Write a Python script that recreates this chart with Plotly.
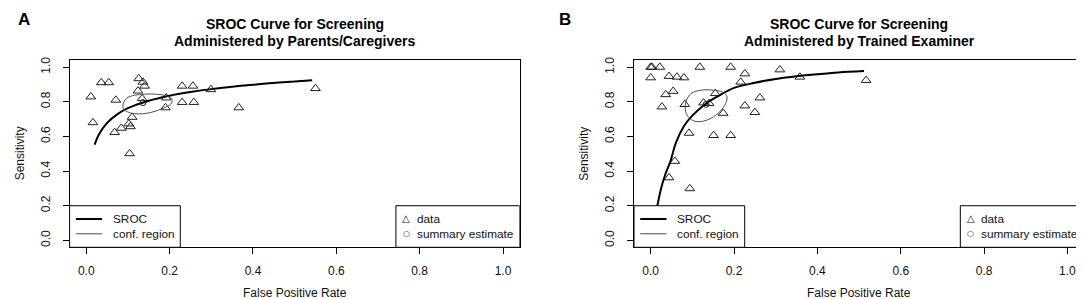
import plotly.graph_objects as go

# ---------------- Panel A: Parents/Caregivers ----------------
a_fpr = [0.036, 0.054, 0.126, 0.136, 0.140, 0.124, 0.011, 0.071, 0.134, 0.192, 0.190, 0.230, 0.256,
         0.299, 0.230, 0.258, 0.366, 0.550, 0.016, 0.110, 0.102, 0.106, 0.084, 0.068, 0.104]
a_sens = [0.911, 0.911, 0.934, 0.914, 0.891, 0.863, 0.829, 0.810, 0.819, 0.823, 0.766, 0.891, 0.891,
          0.871, 0.797, 0.797, 0.766, 0.877, 0.680, 0.711, 0.673, 0.657, 0.648, 0.623, 0.501]
a_sroc_fpr = [0.020, 0.030, 0.050, 0.075, 0.100, 0.150, 0.200, 0.250, 0.300, 0.400, 0.500, 0.542]
a_sroc_sens = [0.553, 0.610, 0.678, 0.729, 0.763, 0.806, 0.835, 0.856, 0.873, 0.898, 0.917, 0.924]
a_ell_fpr = [0.088, 0.096, 0.116, 0.140, 0.168, 0.192, 0.206, 0.203, 0.184, 0.156, 0.128, 0.104, 0.090, 0.088]
a_ell_sens = [0.781, 0.819, 0.838, 0.844, 0.844, 0.834, 0.814, 0.787, 0.762, 0.739, 0.730, 0.737, 0.757, 0.781]
a_sum_fpr = [0.136]
a_sum_sens = [0.795]

# ---------------- Panel B: Trained Examiner ----------------
b_fpr = [0.000, 0.003, 0.022, 0.118, 0.192, 0.000, 0.044, 0.063, 0.080, 0.226, 0.216, 0.310, 0.358,
         0.517, 0.036, 0.054, 0.027, 0.082, 0.127, 0.140, 0.155, 0.174, 0.226, 0.250, 0.262, 0.092,
         0.151, 0.192, 0.058, 0.044, 0.094]
b_sens = [1.000, 1.000, 1.000, 1.000, 1.000, 0.939, 0.947, 0.943, 0.939, 0.962, 0.914, 0.985, 0.943,
          0.924, 0.842, 0.861, 0.771, 0.785, 0.794, 0.791, 0.848, 0.734, 0.777, 0.739, 0.823, 0.619,
          0.606, 0.606, 0.457, 0.362, 0.299]
b_sroc_fpr = [0.016, 0.025, 0.035, 0.048, 0.060, 0.080, 0.100, 0.133, 0.160, 0.200, 0.250, 0.300,
              0.350, 0.400, 0.450, 0.512]
b_sroc_sens = [0.200, 0.300, 0.380, 0.460, 0.560, 0.660, 0.720, 0.790, 0.830, 0.880, 0.910, 0.932,
               0.947, 0.959, 0.969, 0.977]
b_ell_fpr = [0.085, 0.097, 0.121, 0.150, 0.174, 0.183, 0.180, 0.166, 0.145, 0.121, 0.102, 0.087, 0.083, 0.085]
b_ell_sens = [0.804, 0.848, 0.867, 0.867, 0.854, 0.829, 0.791, 0.743, 0.705, 0.686, 0.691, 0.724, 0.762, 0.804]
b_sum_fpr = [0.133]
b_sum_sens = [0.785]

titles = [("SROC Curve for Screening", "Administered by Parents/Caregivers"),
          ("SROC Curve for Screening", "Administered by Trained Examiner")]
panel_letters = ["A", "B"]
tick_vals = [0, 0.2, 0.4, 0.6, 0.8, 1.0]
tick_text = ["0.0", "0.2", "0.4", "0.6", "0.8", "1.0"]
legend_lines = ["SROC", "conf. region"]
legend_points = ["data", "summary estimate"]

W, H = 1084, 299
FONT = "Liberation Sans, Arial, Helvetica, sans-serif"
# pixel boxes of the two plot regions (left, right), shared top/bottom
boxes = [(61.6, 511.7), (626.0, 1076.1)]
letter_px = [15.5, 557.0]
top_px, bot_px = 49.7, 238.7

fig = go.Figure()
panels = [
    (a_fpr, a_sens, a_sroc_fpr, a_sroc_sens, a_ell_fpr, a_ell_sens, a_sum_fpr, a_sum_sens),
    (b_fpr, b_sens, b_sroc_fpr, b_sroc_sens, b_ell_fpr, b_ell_sens, b_sum_fpr, b_sum_sens),
]
for i, (fx, sy, rx, ry, ex, ey, smx, smy) in enumerate(panels):
    xa = "x" if i == 0 else "x2"
    ya = "y" if i == 0 else "y2"
    fig.add_trace(go.Scatter(x=fx, y=sy, mode="markers", xaxis=xa, yaxis=ya, showlegend=False,
                             marker=dict(symbol="triangle-up-open", size=8.5, color="#222222",
                                         line=dict(width=1, color="#222222"))))
    fig.add_trace(go.Scatter(x=rx, y=ry, mode="lines", xaxis=xa, yaxis=ya, showlegend=False,
                             line=dict(color="black", width=2, shape="spline")))
    fig.add_trace(go.Scatter(x=ex, y=ey, mode="lines", xaxis=xa, yaxis=ya, showlegend=False,
                             line=dict(color="#4d4d4d", width=1, shape="spline")))
    fig.add_trace(go.Scatter(x=smx, y=smy, mode="markers", xaxis=xa, yaxis=ya, showlegend=False,
                             marker=dict(symbol="circle-open", size=6, color="#222222",
                                         line=dict(width=1, color="#222222"))))

axis_common = dict(range=[-0.04, 1.04], tickvals=tick_vals, ticktext=tick_text, showgrid=False,
                   zeroline=False, showline=True, linecolor="black", linewidth=1, mirror=True,
                   ticks="outside", ticklen=6, tickwidth=1, tickcolor="black",
                   tickfont=dict(family=FONT, size=12, color="#111111"))
ydom = [(H - bot_px) / H, (H - top_px) / H]
layout = dict(width=W, height=H, margin=dict(l=0, r=0, t=0, b=0),
              paper_bgcolor="white", plot_bgcolor="white", showlegend=False,
              font=dict(family=FONT, size=12, color="#111111"))
for i, (l, r) in enumerate(boxes):
    sfx = "" if i == 0 else "2"
    layout["xaxis" + sfx] = dict(axis_common, domain=[l / W, r / W], anchor="y" + sfx,
                                 ticklabelstandoff=6)
    layout["yaxis" + sfx] = dict(axis_common, domain=ydom, anchor="x" + sfx, tickangle=-90,
                                 ticklabelstandoff=8)
fig.update_layout(**layout)

LEG_FONT = dict(size=11.8, family=FONT, color="#111111")
ann = []
shapes = []
for i, (l, r) in enumerate(boxes):
    sfx = "" if i == 0 else "2"
    xr, yr = "x" + sfx, "y" + sfx
    cx = (l + r) / 2
    ann.append(dict(text="<b>%s</b>" % panel_letters[i], x=letter_px[i] / W, y=1 - 9 / H,
                    xref="paper", yref="paper", showarrow=False, xanchor="center", yanchor="middle",
                    font=dict(size=17, family=FONT, color="black")))
    ann.append(dict(text="<b>%s</b>" % titles[i][0], x=cx / W, y=1 - 13 / H, xref="paper",
                    yref="paper", showarrow=False, xanchor="center", yanchor="middle",
                    font=dict(size=14, family=FONT, color="black")))
    ann.append(dict(text="<b>%s</b>" % titles[i][1], x=cx / W, y=1 - 30 / H, xref="paper",
                    yref="paper", showarrow=False, xanchor="center", yanchor="middle",
                    font=dict(size=14, family=FONT, color="black")))
    ann.append(dict(text="False Positive Rate", x=cx / W, y=1 - 285 / H, xref="paper",
                    yref="paper", showarrow=False, xanchor="center", yanchor="middle",
                    font=dict(size=12, family=FONT, color="#111111")))
    ann.append(dict(text="Sensitivity", x=(l - 50) / W, y=1 - ((top_px + bot_px) / 2) / H,
                    xref="paper", yref="paper", showarrow=False, textangle=-90,
                    xanchor="center", yanchor="middle",
                    font=dict(size=12, family=FONT, color="#111111")))
    # legend boxes
    shapes.append(dict(type="rect", xref=xr, yref=yr, x0=-0.04, x1=0.2256, y0=-0.04, y1=0.2,
                       line=dict(color="black", width=1), fillcolor="white", layer="above"))
    shapes.append(dict(type="rect", xref=xr, yref=yr, x0=0.743, x1=1.04, y0=-0.04, y1=0.2,
                       line=dict(color="black", width=1), fillcolor="white", layer="above"))
    shapes.append(dict(type="line", xref=xr, yref=yr, x0=-0.025, x1=0.038, y0=0.124, y1=0.124,
                       line=dict(color="black", width=2), layer="above"))
    shapes.append(dict(type="line", xref=xr, yref=yr, x0=-0.025, x1=0.038, y0=0.038, y1=0.038,
                       line=dict(color="#4d4d4d", width=1), layer="above"))
    for txt, yv in zip(legend_lines, [0.124, 0.036]):
        ann.append(dict(text=txt, x=0.059, y=yv, xref=xr, yref=yr, showarrow=False,
                        xanchor="left", yanchor="middle", font=LEG_FONT))
    for txt, yv in zip(legend_points, [0.124, 0.036]):
        ann.append(dict(text=txt, x=0.789, y=yv, xref=xr, yref=yr, showarrow=False,
                        xanchor="left", yanchor="middle", font=LEG_FONT))
    ann.append(dict(text="\u25B3", x=0.768, y=0.128, xref=xr, yref=yr, showarrow=False,
                    xanchor="center", yanchor="middle",
                    font=dict(size=10, family="DejaVu Sans", color="#222222")))
    ann.append(dict(text="\u25CB", x=0.768, y=0.038, xref=xr, yref=yr, showarrow=False,
                    xanchor="center", yanchor="middle",
                    font=dict(size=8, family="DejaVu Sans", color="#222222")))

fig.update_layout(annotations=ann, shapes=shapes)
fig.write_html("out.html")
